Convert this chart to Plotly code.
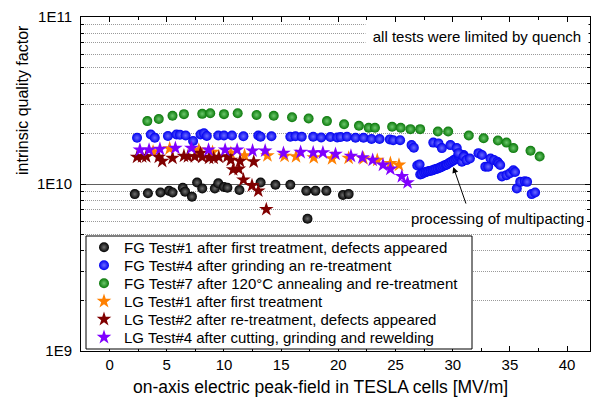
import plotly.graph_objects as go

# ---------------- data ----------------
fg1_x = [2.2, 3.35, 4.45, 5.2, 5.5, 6.4, 6.6, 7.2, 7.65, 8.1, 9.2, 9.5, 10.0, 10.3, 11.35,
         13.2, 14.5, 15.8, 17.2, 17.3, 18.0, 18.95, 20.4, 20.9]
fg1_q = [8.7e9, 8.8e9, 8.9e9, 9.1e9, 8.9e9, 9.5e9, 9.0e9, 8.4e9, 1.02e10, 9.4e9, 9.4e9, 1.01e10,
         9.6e9, 9.5e9, 9.2e9, 1.02e10, 9.9e9, 9.9e9, 9.1e9, 6.2e9, 9.1e9, 9.1e9, 8.6e9, 8.7e9]

fg4_x = [2.4, 3.6, 3.95, 5.1, 5.85, 6.15, 6.65, 7.3, 7.95, 8.25, 8.5, 9.5, 10.0, 10.7, 11.7,
         13.0, 13.2, 14.15, 15.8, 16.25, 16.8, 17.8, 18.5, 19.3, 19.9, 20.2, 20.75, 21.5, 22.2,
         22.9, 23.6, 24.5, 24.8, 25.4, 26.4, 26.6, 26.9, 27.1,
         27.16, 27.3, 27.5, 27.65, 27.8, 27.95, 28.1, 28.25, 28.4, 28.55, 28.7, 28.85, 28.95,
         29.1, 29.25, 29.4, 29.5, 29.65, 29.8, 29.95, 30.1, 30.25, 30.4, 30.55, 30.65, 30.8, 30.95,
         28.3, 28.75, 29.05, 29.8, 30.35, 30.5, 30.8, 30.95, 31.2, 31.5, 32.25, 32.55, 32.85, 33.1,
         33.3, 33.6, 33.9, 34.0, 34.15, 34.3, 34.7, 35.0, 35.3, 35.45, 35.6, 35.9, 36.3, 36.5, 36.9, 37.2]
fg4_q = [1.89e10, 1.98e10, 1.89e10, 1.94e10, 1.98e10, 1.97e10, 1.95e10, 1.81e10, 1.98e10, 2.01e10,
         1.94e10, 1.95e10, 1.95e10, 1.95e10, 1.93e10, 1.95e10, 1.92e10, 1.93e10, 1.92e10, 1.93e10,
         1.92e10, 1.92e10, 1.90e10, 1.91e10, 1.90e10, 1.91e10, 1.92e10, 1.89e10, 1.89e10, 1.86e10,
         1.86e10, 1.85e10, 1.83e10, 1.83e10, 1.71e10, 1.65e10, 1.29e10, 1.31e10,
         1.14e10, 1.15e10, 1.17e10, 1.18e10, 1.19e10, 1.195e10, 1.20e10, 1.21e10, 1.22e10, 1.23e10,
         1.24e10, 1.25e10, 1.26e10, 1.275e10, 1.29e10, 1.30e10, 1.31e10, 1.33e10, 1.35e10, 1.37e10,
         1.39e10, 1.41e10, 1.43e10, 1.45e10, 1.46e10, 1.47e10, 1.49e10,
         1.77e10, 1.75e10, 1.64e10, 1.71e10, 1.64e10, 1.53e10, 1.36e10, 1.46e10, 1.39e10, 1.42e10,
         1.53e10, 1.49e10, 1.27e10, 1.27e10, 1.42e10, 1.39e10, 1.36e10, 1.33e10, 1.30e10, 1.11e10,
         1.13e10, 1.16e10, 1.21e10, 1.18e10, 0.94e10, 1.03e10, 1.04e10, 1.03e10, 0.87e10, 0.89e10]

fg7_x = [3.3, 4.3, 5.5, 6.5, 8.1, 8.8, 10.0, 11.2, 12.85, 14.35, 15.95, 17.4, 19.0, 20.5, 21.8,
         22.65, 23.2, 24.7, 25.45, 26.3, 27.15, 28.7, 29.6, 31.4, 32.7, 33.95, 34.7, 35.3, 36.8, 37.6]
fg7_q = [2.38e10, 2.45e10, 2.56e10, 2.62e10, 2.63e10, 2.65e10, 2.62e10, 2.65e10, 2.59e10, 2.56e10,
         2.51e10, 2.47e10, 2.38e10, 2.28e10, 2.23e10, 2.17e10, 2.17e10, 2.20e10, 2.17e10, 2.13e10,
         2.13e10, 2.06e10, 2.06e10, 1.95e10, 1.88e10, 1.82e10, 1.77e10, 1.64e10, 1.58e10, 1.46e10]

lg1_x = [3.8, 5.25, 7.8, 9.0, 10.6, 11.8, 13.8, 15.3, 16.3, 17.85, 19.45, 20.9, 22.2, 23.4, 24.55, 25.3]
lg1_q = [1.56e10, 1.63e10, 1.60e10, 1.55e10, 1.53e10, 1.48e10, 1.48e10, 1.47e10, 1.46e10, 1.44e10,
         1.42e10, 1.43e10, 1.42e10, 1.39e10, 1.33e10, 1.30e10]

lg2_x = [2.4, 2.85, 3.2, 4.3, 4.6, 5.5, 6.5, 6.85, 7.45, 7.95, 8.1, 8.7, 9.1, 9.55, 10.3, 10.6,
         11.4, 12.6, 10.8, 11.3, 11.7, 12.45, 13.0, 13.7]
lg2_q = [1.45e10, 1.46e10, 1.46e10, 1.45e10, 1.37e10, 1.43e10, 1.47e10, 1.46e10, 1.46e10, 1.53e10,
         1.45e10, 1.43e10, 1.43e10, 1.45e10, 1.46e10, 1.39e10, 1.37e10, 1.36e10, 1.22e10, 1.23e10,
         1.06e10, 0.98e10, 0.91e10, 0.705e10]

lg4_x = [2.65, 3.45, 4.4, 5.75, 7.15, 8.65, 10.1, 11.15, 12.5, 13.6, 15.2, 16.7, 17.8, 18.65, 19.75,
         21.1, 22.1, 23.0, 23.9, 24.55, 25.55, 26.05]
lg4_q = [1.60e10, 1.60e10, 1.62e10, 1.64e10, 1.64e10, 1.60e10, 1.60e10, 1.60e10, 1.58e10, 1.58e10,
         1.53e10, 1.55e10, 1.54e10, 1.54e10, 1.51e10, 1.47e10, 1.44e10, 1.39e10, 1.30e10, 1.23e10,
         1.11e10, 1.02e10]

names = ["FG Test#1 after first treatment, defects appeared",
         "FG Test#4 after grinding an re-treatment",
         "FG Test#7 after 120°C annealing and re-treatment",
         "LG Test#1 after first treatment",
         "LG Test#2 after re-treatment, defects appeared",
         "LG Test#4 after cutting, grinding and rewelding"]

y_tickvals = [1e9, 1e10, 1e11]
y_ticktext = ["1E9", "1E10", "1E11"]
y_minor = [k * 1e9 for k in range(2, 10)] + [k * 1e10 for k in range(2, 10)]
x_tickvals = [0, 5, 10, 15, 20, 25, 30, 35, 40]

FONT = "Liberation Sans, Arial, sans-serif"

# layout geometry (pixels)
W, H = 596, 401
ML, MR, MT, MB = 81, 6, 17, 50
PW, PH = W - ML - MR, H - MT - MB


def px2paper_x(px):
    return (px - ML) / PW


def px2paper_y(py):
    return 1 - (py - MT) / PH


fig = go.Figure()


def sphere(x, y, name, color, hi, leg):
    fig.add_trace(go.Scatter(
        x=x, y=y, mode="markers", name=name, legend=leg,
        marker=dict(symbol="circle", size=10, color=color,
                    gradient=dict(type="radial", color=hi),
                    line=dict(width=0))))


def star(x, y, name, color, leg):
    fig.add_trace(go.Scatter(
        x=x, y=y, mode="markers", name=name, legend=leg,
        marker=dict(symbol="star", size=11, color=color, line=dict(width=0))))


sphere(fg1_x, fg1_q, names[0], "#000000", "#6e6e6e", "legend")
sphere(fg4_x, fg4_q, names[1], "#0000f0", "#6a6aff", "legend2")
sphere(fg7_x, fg7_q, names[2], "#0a780a", "#6cc86c", "legend3")
star(lg1_x, lg1_q, names[3], "#ff8000", "legend4")
star(lg2_x, lg2_q, names[4], "#800000", "legend5")
star(lg4_x, lg4_q, names[5], "#8000ff", "legend6")

# legend rows (one legend per row so the row pitch matches the reference)
row_y = [247.5, 265.5, 283.5, 301.5, 319.5, 337.5]
leg_common = dict(xanchor="left", yanchor="middle", bgcolor="rgba(0,0,0,0)",
                  borderwidth=0, font=dict(family=FONT, size=15, color="black"),
                  itemwidth=30)
legends = {}
for i, ry in enumerate(row_y):
    key = "legend" if i == 0 else f"legend{i + 1}"
    legends[key] = dict(x=px2paper_x(84), y=px2paper_y(ry), **leg_common)

fig.update_layout(
    width=W, height=H,
    margin=dict(l=ML, r=MR, t=MT, b=MB, autoexpand=False),
    paper_bgcolor="white", plot_bgcolor="white",
    font=dict(family=FONT, size=14, color="black"),
    showlegend=True,
    **legends,
)

# legend frame
fig.add_shape(type="rect", xref="paper", yref="paper", layer="above",
              x0=px2paper_x(86), x1=px2paper_x(472),
              y0=px2paper_y(349), y1=px2paper_y(236),
              fillcolor="white", line=dict(color="black", width=1))

fig.update_xaxes(
    range=[-2.5, 42], tickvals=x_tickvals, ticks="inside", ticklen=5, tickcolor="black",
    showline=True, linecolor="black", linewidth=1, mirror="allticks",
    showgrid=False, zeroline=False,
    tickfont=dict(family=FONT, size=15),
    minor=dict(dtick=2.5, ticks="inside", ticklen=3, tickcolor="black", showgrid=False),
)

fig.update_yaxes(
    type="log", range=[9, 11], tickvals=y_tickvals, ticktext=y_ticktext,
    ticks="inside", ticklen=5, tickcolor="black", ticklabelstandoff=5,
    showline=True, linecolor="black", linewidth=1, mirror="allticks",
    showgrid=True, gridcolor="#606060", gridwidth=1, zeroline=False,
    tickfont=dict(family=FONT, size=15),
    minor=dict(tickvals=y_minor, ticks="inside", ticklen=3, tickcolor="black",
               showgrid=True, gridcolor="#9a9a9a", griddash="1px,1px", gridwidth=1),
)

# axis titles
fig.add_annotation(text="intrinsic quality factor", xref="paper", yref="paper",
                   x=px2paper_x(22), y=px2paper_y(100), xanchor="center", yanchor="middle",
                   textangle=-90, showarrow=False, font=dict(family=FONT, size=16))
fig.add_annotation(text="on-axis electric peak-field in TESLA cells [MV/m]",
                   xref="paper", yref="paper",
                   x=px2paper_x(320), y=px2paper_y(387), xanchor="center", yanchor="middle",
                   showarrow=False, font=dict(family=FONT, size=17.5))

# notes
fig.add_annotation(text="all tests were limited by quench", xref="paper", yref="paper",
                   x=px2paper_x(477), y=px2paper_y(36), xanchor="center", yanchor="middle",
                   showarrow=False, bgcolor="white", width=222, height=24, borderpad=0,
                   font=dict(family=FONT, size=15))

fig.add_annotation(text="processing of multipacting", xref="x", yref="y",
                   x=33.9, y=9.796, xanchor="center", yanchor="middle",
                   showarrow=False, bgcolor="white",
                   font=dict(family=FONT, size=15))

fig.add_annotation(text="", xref="x", yref="y", axref="x", ayref="y",
                   x=30.05, y=10.102, ax=31.2, ay=9.874,
                   showarrow=True, arrowhead=2, arrowsize=1.2, arrowwidth=1, arrowcolor="black")

fig.write_html("out.html", config={"displayModeBar": False},
               post_script="document.body.style.margin='0';document.body.style.padding='0';")
